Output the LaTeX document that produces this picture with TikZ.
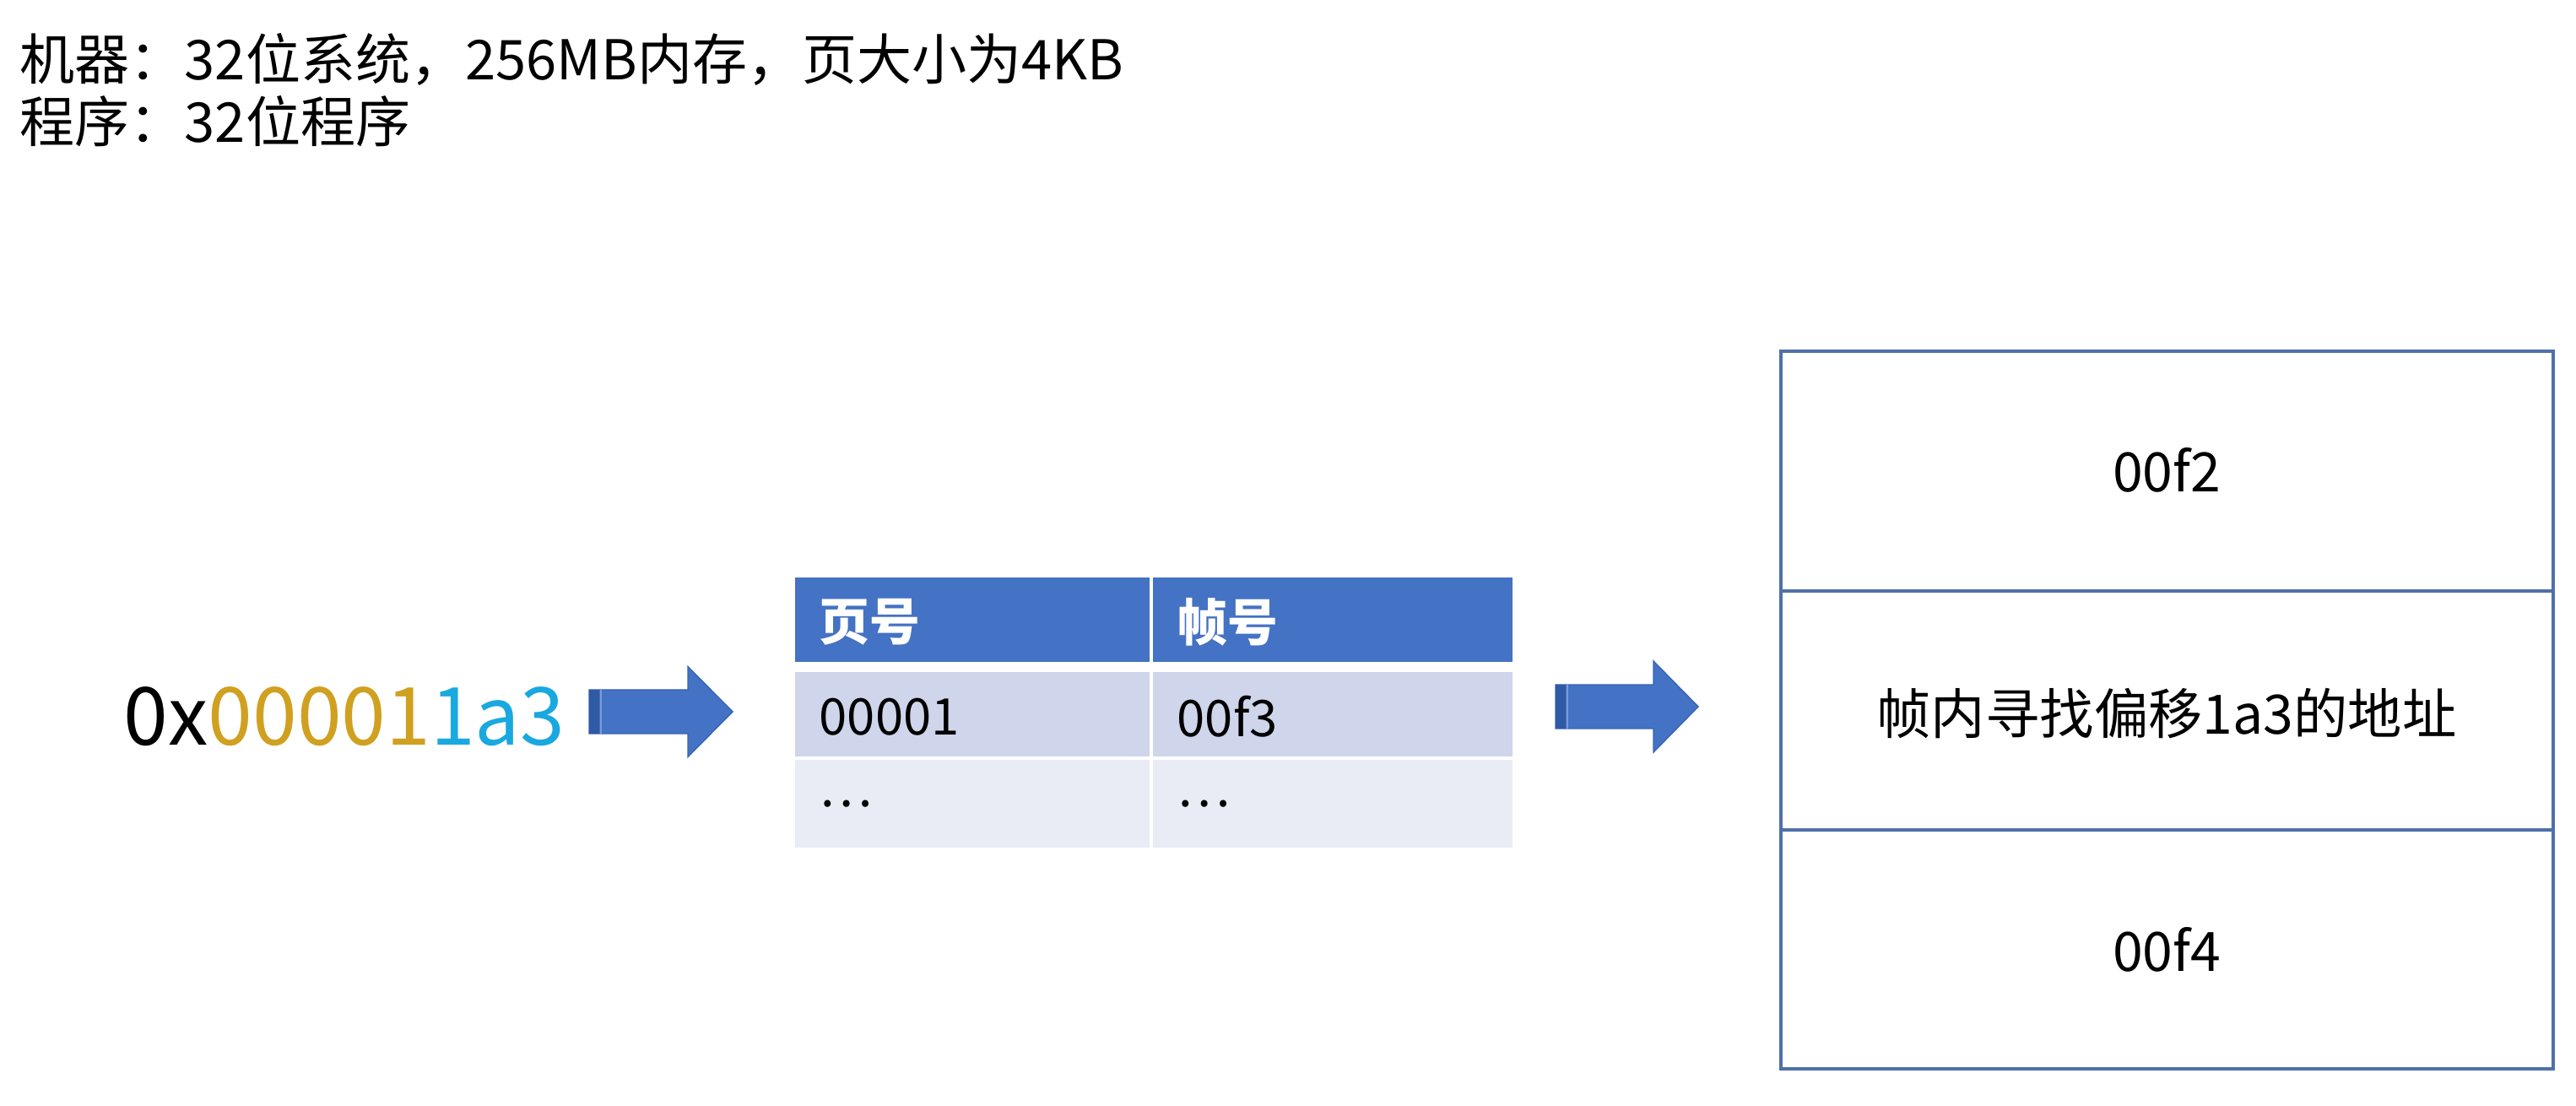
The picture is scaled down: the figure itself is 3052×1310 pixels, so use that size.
\documentclass[tikz,border=0pt]{standalone}
\usepackage{fontspec}
\setmainfont{Noto Sans CJK SC}
\definecolor{arrowblue}{HTML}{4472C4}
\definecolor{arrowedge}{HTML}{3A64B2}
\definecolor{arrowstripe}{HTML}{2F5AA5}
\definecolor{hdrblue}{HTML}{4472C4}
\definecolor{rowone}{HTML}{CFD5EA}
\definecolor{rowtwo}{HTML}{E9EBF5}
\definecolor{memline}{HTML}{5070A8}
\definecolor{addrgold}{HTML}{D0A020}
\definecolor{addrblue}{HTML}{1AA8E0}
\tikzset{
  toptext/.style={anchor=west, inner sep=0pt, font=\fontsize{18.5}{20}\selectfont},
  celltext/.style={anchor=west, inner sep=0pt, font=\fontsize{17}{18}\selectfont},
  hdrtext/.style={anchor=west, inner sep=0pt, text=white, font=\fontsize{17}{18}\selectfont\bfseries},
  memtext/.style={inner sep=0pt, font=\fontsize{18.3}{19}\selectfont},
  memcell/.style={draw=memline, line width=1.0pt},
  blockarrow/.style={fill=arrowblue, draw=arrowedge, line width=0.4pt},
}
\begin{document}
\begin{tikzpicture}[x=0.01cm, y=-0.01cm]
\useasboundingbox[fill=white] (0,0) rectangle (3052,1310);

% header text
\node[toptext] (l1) at (23,70) {机器：32位系统，256MB内存，页大小为4KB};
\node[toptext] (l2) at (23,144) {程序：32位程序};

% address
\node[anchor=west, inner sep=0pt, font=\fontsize{27}{30}\selectfont] (addr) at (146,849)
  {0x\textcolor{addrgold}{00001}\textcolor{addrblue}{1a3}};

% arrow 1
\begin{scope}[shift={(698,843)}]
  \fill[blockarrow] (0,-26) -- (117,-26) -- (117,-53.5) -- (170,0) -- (117,53.5) -- (117,26) -- (0,26) -- cycle;
  \fill[arrowstripe] (0,-26) rectangle (12,26);
  \fill[arrowblue!70!white] (13,-26) rectangle (15,26);
\end{scope}

% table
\fill[hdrblue] (942,684) rectangle (1362,784);
\fill[hdrblue] (1366,684) rectangle (1792,784);
\fill[rowone] (942,796) rectangle (1362,896);
\fill[rowone] (1366,796) rectangle (1792,896);
\fill[rowtwo] (942,900) rectangle (1362,1004);
\fill[rowtwo] (1366,900) rectangle (1792,1004);
\node[hdrtext] (h1) at (970,737) {页号};
\node[hdrtext] (h2) at (1394,737) {帧号};
\node[celltext] (c11) at (970,849) {00001};
\node[celltext] (c12) at (1394,849) {00f3};
\node[celltext] (c21) at (970,952) {…};
\node[celltext] (c22) at (1394,952) {…};

% arrow 2
\begin{scope}[shift={(1843,837)}]
  \fill[blockarrow] (0,-26) -- (116,-26) -- (116,-54) -- (169,0) -- (116,54) -- (116,26) -- (0,26) -- cycle;
  \fill[arrowstripe] (0,-26) rectangle (12,26);
  \fill[arrowblue!70!white] (13,-26) rectangle (15,26);
\end{scope}

% memory frames
\draw[memcell] (2110,416) rectangle (3025,700);
\draw[memcell] (2110,700) rectangle (3025,983);
\draw[memcell] (2110,983) rectangle (3025,1266);
\node[memtext] (m1) at (2567,557) {00f2};
\node[memtext] (m2) at (2567,845) {帧内寻找偏移1a3的地址};
\node[memtext] (m3) at (2567,1125) {00f4};
\end{tikzpicture}
\end{document}
